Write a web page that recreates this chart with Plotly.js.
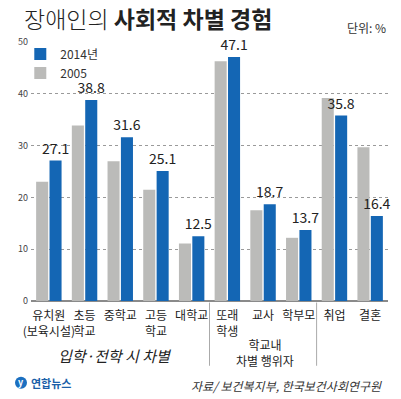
<!DOCTYPE html>
<html>
<head>
<meta charset="utf-8">
<script src="https://cdn.plot.ly/plotly-3.0.1.min.js"></script>
<style>html,body{margin:0;padding:0;background:#fff;}#chart{width:401px;height:399px;}</style>
</head>
<body>
<div id="chart"></div>
<script>
const categories = ['유치원', '초등학교', '중학교', '고등학교', '대학교', '또래학생', '교사', '학부모', '취업', '결혼'];
const tickLabels = ['유치원<br>(보육시설)', '초등<br>학교', '중학교', '고등<br>학교', '대학교', '또래<br>학생', '교사', '학부모', '취업', '결혼'];
const values2005 = [23.0, 33.9, 27.0, 21.5, 11.1, 46.3, 17.5, 12.2, 39.2, 29.7];
const values2014 = [27.1, 38.8, 31.6, 25.1, 12.5, 47.1, 18.7, 13.7, 35.8, 16.4];
const yTicks = [0, 10, 20, 30, 40, 50];

const FONT = '"Noto Sans CJK KR", "Noto Sans", sans-serif';
const BLUE = '#1466b4';
const GRAY = '#bbbbb9';

const traces = [
  {
    type: 'bar', name: '2005', x: categories, y: values2005,
    marker: {color: GRAY}, hoverinfo: 'skip'
  },
  {
    type: 'bar', name: '2014년', x: categories, y: values2014,
    marker: {color: BLUE},
    text: values2014.map(v => v.toFixed(1)),
    textposition: 'outside', cliponaxis: false, constraintext: 'none',
    textfont: {family: FONT, size: 14, color: '#222'},
    hoverinfo: 'skip'
  }
];

const layout = {
  width: 401, height: 399,
  margin: {l: 31, r: 13, t: 42, b: 98},
  paper_bgcolor: '#fff', plot_bgcolor: '#fff',
  font: {family: FONT, color: '#222'},
  barmode: 'group', bargap: 0.25, bargroupgap: 0.1,
  showlegend: true,
  legend: {
    x: -0.03, y: 1.01, xanchor: 'left', yanchor: 'top',
    traceorder: 'reversed', bgcolor: 'rgba(0,0,0,0)',
    font: {family: FONT, size: 12, color: '#333'},
    itemwidth: 30, tracegroupgap: 0
  },
  title: {
    text: '<span style="font-weight:300">장애인의</span> <b>사회적 차별 경험</b>',
    font: {family: FONT, size: 23, color: '#222'},
    x: 24 / 401, xanchor: 'left', xref: 'container',
    y: 1 - 20 / 399, yanchor: 'middle', yref: 'container'
  },
  xaxis: {
    type: 'category', tickmode: 'array', tickvals: categories, ticktext: tickLabels,
    tickfont: {family: FONT, size: 12, color: '#222'}, tickangle: 0,
    ticklabelstandoff: 6,
    showgrid: false, showline: false, ticks: '', fixedrange: true
  },
  yaxis: {
    range: [0, 50], tickmode: 'array', tickvals: yTicks,
    tickfont: {family: FONT, size: 9, color: '#444'},
    showgrid: true, gridcolor: '#9a9a9a', gridwidth: 1, griddash: 'dot',
    zeroline: true, zerolinecolor: '#8a8a8a', zerolinewidth: 2,
    showline: false, ticks: '', ticklabelstandoff: 2, fixedrange: true
  },
  shapes: [
    {type: 'line', xref: 'x', yref: 'paper', x0: 4.5, x1: 4.5, y0: -0.006, y1: -0.25,
     line: {color: '#aaa', width: 1}},
    {type: 'line', xref: 'x', yref: 'paper', x0: 7.5, x1: 7.5, y0: -0.006, y1: -0.25,
     line: {color: '#aaa', width: 1}},
    {type: 'circle', xref: 'paper', yref: 'paper',
     x0: (15 - 31) / 357, x1: (27 - 31) / 357,
     y0: -(388 - 300.5) / 258.5, y1: -(376 - 300.5) / 258.5,
     fillcolor: '#1b6fc0', line: {color: '#1b6fc0', width: 0}}
  ],
  annotations: [
    {text: '단위: %', xref: 'paper', yref: 'paper', x: 1.0, y: 1 + 14 / 258.5,
     xanchor: 'right', yanchor: 'middle', showarrow: false,
     font: {family: FONT, size: 12, color: '#333'}},
    {text: '<i>입학·전학 시 차별</i>', xref: 'x', yref: 'paper', x: 1.85, y: -(355 - 300.5) / 258.5,
     xanchor: 'center', yanchor: 'middle', showarrow: false,
     font: {family: FONT, size: 15, color: '#222'}},
    {text: '학교내<br>차별 행위자', xref: 'x', yref: 'paper', x: 6.05, y: -(352 - 300.5) / 258.5,
     xanchor: 'center', yanchor: 'middle', showarrow: false,
     font: {family: FONT, size: 12, color: '#222'}},
    {text: '<i>자료/ 보건복지부, 한국보건사회연구원</i>', xref: 'paper', yref: 'paper',
     x: (384 - 31) / 357, y: -(385 - 300.5) / 258.5,
     xanchor: 'right', yanchor: 'middle', showarrow: false,
     font: {family: FONT, size: 12, color: '#333'}},
    {text: '<b>y</b>', xref: 'paper', yref: 'paper',
     x: (21 - 31) / 357, y: -(382 - 300.5) / 258.5,
     xanchor: 'center', yanchor: 'middle', showarrow: false,
     font: {family: FONT, size: 9, color: '#fff'}},
    {text: '<b>연합뉴스</b>', xref: 'paper', yref: 'paper',
     x: (29 - 31) / 357, y: -(382 - 300.5) / 258.5,
     xanchor: 'left', yanchor: 'middle', showarrow: false,
     font: {family: FONT, size: 11, color: '#1b5fa8'}}
  ]
};

Plotly.newPlot('chart', traces, layout, {displayModeBar: false, staticPlot: true});
</script>
</body>
</html>
